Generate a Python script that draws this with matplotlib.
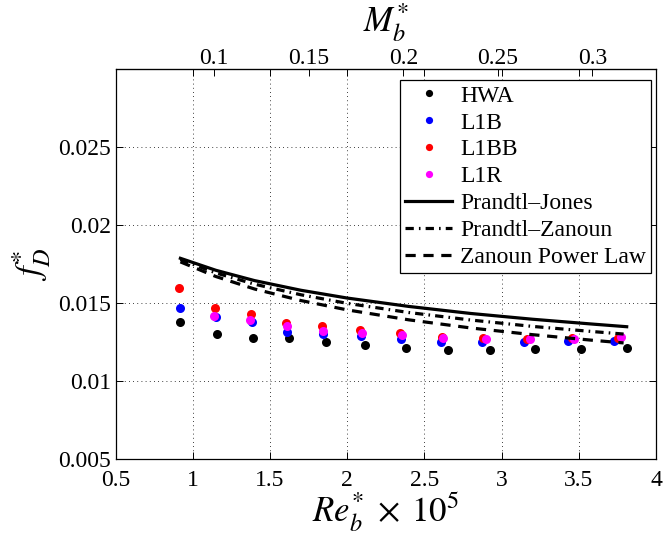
import numpy as np
import matplotlib
matplotlib.use('Agg')
import matplotlib.pyplot as plt

plt.rcParams['font.family'] = ['Liberation Serif', 'DejaVu Serif']
plt.rcParams['mathtext.fontset'] = 'stix'

# Measured friction factor vs bulk Reynolds number (x 1e5)
re_hwa = [0.918, 1.155, 1.389, 1.626, 1.861, 2.118, 2.381, 2.652, 2.925, 3.217, 3.513, 3.815]
f_hwa = [0.01381, 0.01304, 0.01279, 0.01277, 0.01249, 0.01232, 0.01215, 0.01200, 0.01200, 0.01204, 0.01206, 0.01210]

re_l1b = [0.918, 1.151, 1.382, 1.609, 1.842, 2.090, 2.347, 2.608, 2.874, 3.146, 3.433, 3.729]
f_l1b = [0.01469, 0.01409, 0.01381, 0.01317, 0.01300, 0.01291, 0.01272, 0.01253, 0.01253, 0.01251, 0.01255, 0.01257]

re_l1bb = [0.913, 1.144, 1.376, 1.604, 1.836, 2.084, 2.343, 2.613, 2.882, 3.163, 3.455, 3.756]
f_l1bb = [0.01596, 0.01467, 0.01433, 0.01371, 0.01354, 0.01328, 0.01307, 0.01285, 0.01279, 0.01268, 0.01275, 0.01279]

re_l1r = [1.140, 1.371, 1.609, 1.842, 2.095, 2.354, 2.623, 2.898, 3.185, 3.470, 3.774]
f_l1r = [0.01418, 0.01390, 0.01354, 0.01323, 0.01311, 0.01294, 0.01277, 0.01272, 0.01268, 0.01272, 0.01281]

# Correlations
re_pj = [0.92, 1.15, 1.4, 1.7, 2.0, 2.4, 2.8, 3.2, 3.6, 3.81]
f_pj = [0.01788, 0.01711, 0.01645, 0.01583, 0.01533, 0.01479, 0.01434, 0.01397, 0.01365, 0.01349]

re_pz = [0.92, 1.15, 1.4, 1.7, 2.0, 2.4, 2.8, 3.2, 3.6, 3.79]
f_pz = [0.01780, 0.01694, 0.01622, 0.01554, 0.01499, 0.01440, 0.01392, 0.01351, 0.01317, 0.01302]

re_zp = [0.92, 1.15, 1.4, 1.7, 2.0, 2.4, 2.8, 3.2, 3.6, 3.79]
f_zp = [0.01765, 0.01671, 0.01591, 0.01517, 0.01457, 0.01393, 0.01341, 0.01298, 0.01261, 0.01245]

fig = plt.figure(figsize=(6.64, 5.34), dpi=100)
ax = fig.add_axes([0.174, 0.1404, 0.814, 0.7296])

ms = 6.5
ax.plot(re_hwa, f_hwa, 'o', color='black', ms=ms, mew=0, label='HWA')
ax.plot(re_l1b, f_l1b, 'o', color='blue', ms=ms, mew=0, label='L1B')
ax.plot(re_l1bb, f_l1bb, 'o', color='red', ms=ms, mew=0, label='L1BB')
ax.plot(re_l1r, f_l1r, 'o', color='magenta', ms=ms, mew=0, label='L1R')
ax.plot(re_pj, f_pj, '-', color='black', lw=2.3, label='Prandtl\u2013Jones')
ax.plot(re_pz, f_pz, color='black', lw=2.3, dashes=(2.6, 1.6, 0.5, 1.6), label='Prandtl\u2013Zanoun')
ax.plot(re_zp, f_zp, color='black', lw=2.3, dashes=(3.2, 2.4), label='Zanoun Power Law')

ax.set_xlim(0.5, 4)
ax.set_ylim(0.005, 0.03)
ax.set_xticks([0.5, 1, 1.5, 2, 2.5, 3, 3.5, 4])
ax.set_xticklabels(['0.5', '1', '1.5', '2', '2.5', '3', '3.5', '4'])
ax.set_yticks([0.005, 0.01, 0.015, 0.02, 0.025])
ax.set_yticklabels(['0.005', '0.01', '0.015', '0.02', '0.025'])
ax.tick_params(direction='in', top=True, right=True, labelsize=17, length=5, width=0.7, pad=3)
ax.tick_params(axis='x', pad=8)
ax.grid(True, color='black', linestyle=(0, (1, 4)), linewidth=0.6)
for s in ax.spines.values():
    s.set_linewidth(0.9)

ax.set_xlabel(r'$Re_b^{*}\;\times\;10^5$', fontsize=25, labelpad=0)
ax.set_ylabel(r'$f_D^{*}$', fontsize=25, labelpad=4)

# Bulk Mach number on the top axis (linear in Re)
a, b = 0.0817, 0.0069
sec = ax.secondary_xaxis('top', functions=(lambda r: a * r + b, lambda m: (m - b) / a))
sec.set_xticks([0.1, 0.15, 0.2, 0.25, 0.3])
sec.set_xticklabels(['0.1', '0.15', '0.2', '0.25', '0.3'])
sec.tick_params(direction='in', labelsize=17, length=5, width=0.7, pad=0.5)
sec.set_xlabel(r'$M_b^{*}$', fontsize=25, labelpad=11)

leg = ax.legend(loc='upper right', bbox_to_anchor=(0.9907, 0.972), borderaxespad=0,
                fontsize=17, frameon=True, fancybox=False,
                edgecolor='black', framealpha=1, handlelength=2.0, handletextpad=0.35,
                borderpad=0.2, labelspacing=0.23, markerscale=0.8)
leg.get_frame().set_linewidth(0.9)

fig.savefig('out.png', dpi=100)
